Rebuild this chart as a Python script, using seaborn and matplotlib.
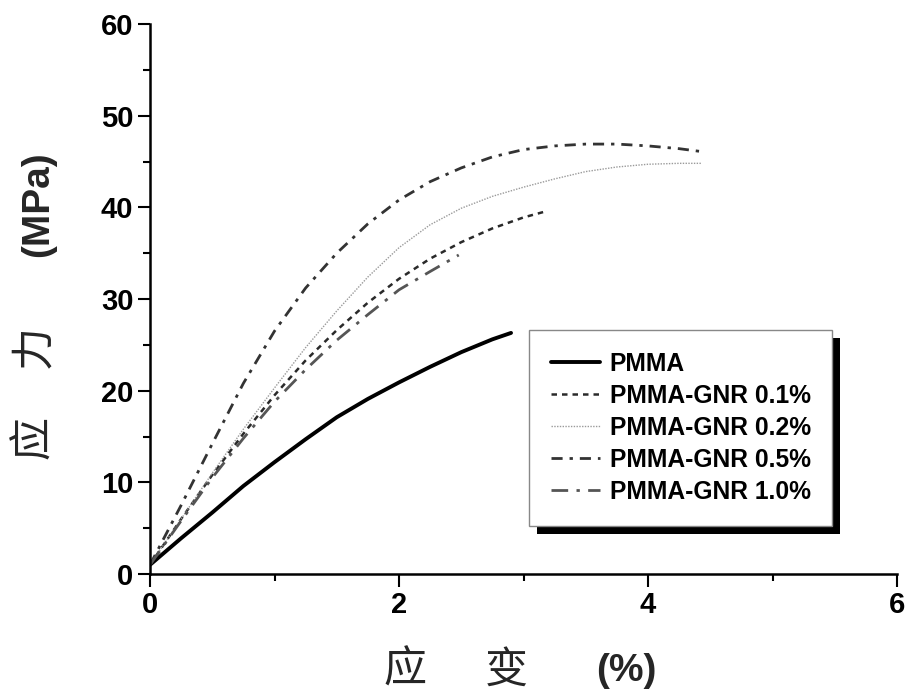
import pandas as pd
import seaborn as sns
import matplotlib.pyplot as plt
from matplotlib.patches import Rectangle
from matplotlib.ticker import MultipleLocator

# strain (%) / stress (MPa)
pmma_x = [0, 0.25, 0.5, 0.75, 1.0, 1.25, 1.5, 1.75, 2.0, 2.25, 2.5, 2.75, 2.9]
pmma_y = [1.0, 3.9, 6.7, 9.6, 12.2, 14.7, 17.1, 19.1, 20.9, 22.6, 24.2, 25.6, 26.3]

gnr01_x = [0, 0.25, 0.5, 0.75, 1.0, 1.25, 1.5, 1.75, 2.0, 2.25, 2.5, 2.75, 3.0, 3.19]
gnr01_y = [1.0, 6.0, 10.8, 15.3, 19.5, 23.3, 26.6, 29.6, 32.2, 34.4, 36.2, 37.7, 38.9, 39.6]

gnr02_x = [0, 0.25, 0.5, 0.75, 1.0, 1.25, 1.5, 1.75, 2.0, 2.25, 2.5, 2.75, 3.0,
           3.25, 3.5, 3.75, 4.0, 4.25, 4.43]
gnr02_y = [1.0, 6.0, 11.0, 15.8, 20.3, 24.7, 28.7, 32.4, 35.6, 38.1, 39.9, 41.2, 42.2,
           43.1, 43.9, 44.4, 44.7, 44.8, 44.8]

gnr05_x = [0, 0.25, 0.5, 0.75, 1.0, 1.25, 1.5, 1.75, 2.0, 2.25, 2.5, 2.75, 3.0,
           3.25, 3.5, 3.75, 4.0, 4.25, 4.42]
gnr05_y = [1.0, 7.5, 14.2, 20.8, 26.5, 31.2, 35.0, 38.2, 40.8, 42.8, 44.3, 45.5, 46.3,
           46.7, 46.9, 46.9, 46.7, 46.4, 46.1]

gnr10_x = [0, 0.25, 0.5, 0.75, 1.0, 1.25, 1.5, 1.75, 2.0, 2.25, 2.48]
gnr10_y = [1.0, 5.8, 10.5, 14.8, 18.8, 22.3, 25.5, 28.3, 31.0, 33.0, 34.8]

labels = ['PMMA', 'PMMA-GNR 0.1%', 'PMMA-GNR 0.2%', 'PMMA-GNR 0.5%', 'PMMA-GNR 1.0%']
xs = [pmma_x, gnr01_x, gnr02_x, gnr05_x, gnr10_x]
ys = [pmma_y, gnr01_y, gnr02_y, gnr05_y, gnr10_y]

styles = [
    dict(color='black', lw=2.8, ls='-'),
    dict(color='#2a2a2a', lw=1.8, ls=(0, (2.2, 2.0))),
    dict(color='#9a9a9a', lw=1.0, ls=(0, (1.0, 1.0))),
    dict(color='#333333', lw=2.0, ls=(0, (4.0, 2.5, 1.2, 2.5))),
    dict(color='#555555', lw=2.0, ls=(0, (6.0, 3.0, 1.2, 3.0))),
]

sns.set_style('ticks')
plt.rcParams['font.family'] = ['Liberation Sans', 'Noto Sans CJK SC', 'DejaVu Sans']

fig = plt.figure(figsize=(9.08, 6.99), dpi=100)
ax = fig.add_axes([150 / 908, 1 - 574 / 699, 747 / 908, 550 / 699])

for x, y, lab, st in zip(xs, ys, labels, styles):
    df = pd.DataFrame({'strain': x, 'stress': y})
    sns.lineplot(data=df, x='strain', y='stress', ax=ax, label=lab,
                 color=st['color'], linewidth=st['lw'], linestyle=st['ls'])

ax.set_xlim(0, 6)
ax.set_ylim(0, 60)
ax.xaxis.set_major_locator(MultipleLocator(2))
ax.xaxis.set_minor_locator(MultipleLocator(1))
ax.yaxis.set_major_locator(MultipleLocator(10))
ax.yaxis.set_minor_locator(MultipleLocator(5))
ax.tick_params(which='major', direction='out', length=9, width=1.5, labelsize=21,
               pad=3, colors='black')
ax.tick_params(which='minor', direction='out', length=5, width=1.5, colors='black')
for lbl in ax.get_xticklabels() + ax.get_yticklabels():
    lbl.set_fontweight('bold')
for s in ['top', 'right']:
    ax.spines[s].set_visible(False)
for s in ['left', 'bottom']:
    ax.spines[s].set_linewidth(1.8)
    ax.spines[s].set_color('black')
ax.set_xlabel('')
ax.set_ylabel('')

# axis titles: Chinese characters regular, units bold
cjk = ['Noto Sans CJK SC', 'DejaVu Sans']
fig.text(405 / 908, 1 - 671 / 699, '应', family=cjk, fontsize=31, ha='center', va='center')
fig.text(506 / 908, 1 - 671 / 699, '变', family=cjk, fontsize=31, ha='center', va='center')
fig.text(626 / 908, 1 - 671 / 699, '(%)', fontsize=28, fontweight='bold', ha='center', va='center')
fig.text(34 / 908, 1 - 437 / 699, '应', family=cjk, fontsize=31, ha='center', va='center', rotation=90)
fig.text(34 / 908, 1 - 347 / 699, '力', family=cjk, fontsize=31, ha='center', va='center', rotation=90)
fig.text(38 / 908, 1 - 204 / 699, '(MPa)', fontsize=28, fontweight='bold', ha='center', va='center', rotation=90)

leg = ax.legend(loc='upper left', bbox_to_anchor=((529 - 150) / 747, (574 - 330) / 550),
                borderaxespad=0, frameon=True, fancybox=False,
                prop={'weight': 'bold', 'size': 17.7}, handlelength=2.0, handletextpad=0.4,
                labelspacing=0.33, borderpad=0.88)
frame = leg.get_frame()
frame.set_edgecolor('#888888')
frame.set_linewidth(1.0)
frame.set_facecolor('white')
frame.set_alpha(1)
for t in leg.get_texts():
    t.set_color('black')
leg.set_zorder(6)

# black drop shadow behind the legend box
fig.canvas.draw()
bb = leg.get_window_extent()
off = 8
shadow = Rectangle((bb.x0 + off, bb.y0 - off), bb.width, bb.height,
                   transform=None, facecolor='black', edgecolor='none',
                   zorder=5, clip_on=False)
ax.add_artist(shadow)

fig.savefig('out.png', dpi=100)
